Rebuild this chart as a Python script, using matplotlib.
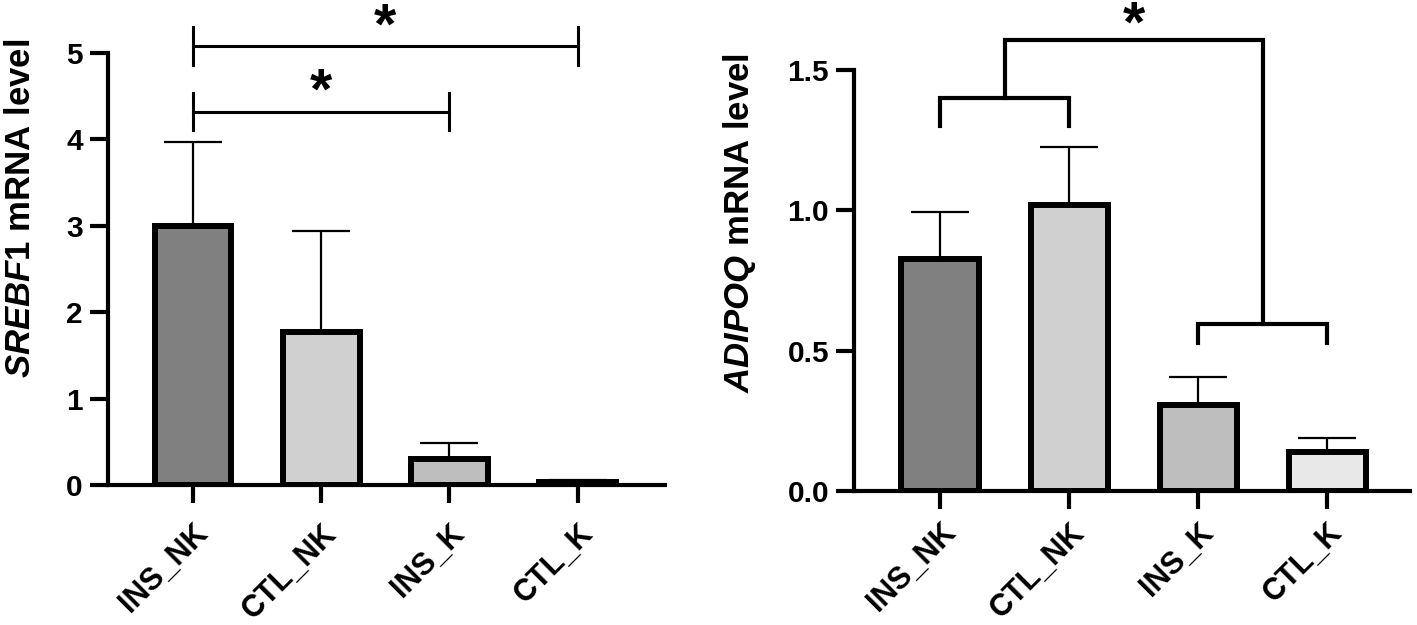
import matplotlib
matplotlib.use("Agg")
import matplotlib.pyplot as plt

plt.rcParams['font.family'] = ['Liberation Sans', 'DejaVu Sans']
plt.rcParams['mathtext.fontset'] = 'custom'
plt.rcParams['mathtext.it'] = 'Liberation Sans:italic:bold'
plt.rcParams['mathtext.rm'] = 'Liberation Sans:bold'

categories = ["INS_NK", "CTL_NK", "INS_K", "CTL_K"]
bar_colors = ["#808080", "#d0d0d0", "#bebebe", "#e8e8e8"]

srebf1_mean = [3.00, 1.77, 0.30, 0.03]
srebf1_err = [0.97, 1.17, 0.19, 0.025]
srebf1_yticks = [0, 1, 2, 3, 4, 5]

adipoq_mean = [0.825, 1.02, 0.305, 0.14]
adipoq_err = [0.17, 0.205, 0.10, 0.049]
adipoq_yticks = [0.0, 0.5, 1.0, 1.5]
adipoq_yticklabels = ["0.0", "0.5", "1.0", "1.5"]

# significance brackets (left): (i, j, height, leg_half)
left_brackets = [(0, 3, 5.08, 0.22), (0, 2, 4.32, 0.215)]
# right: group brackets (i, j, height, leg_drop)
right_group_low = [(0, 1, 1.40, 0.10), (2, 3, 0.595, 0.067)]
right_top = 1.606

FS = 21.5
XFS = 22
LFS = 25

fig = plt.figure(figsize=(14.17, 6.25), dpi=100)
ax1 = fig.add_axes([0.0762, 0.224, 0.393, 0.7536])
ax2 = fig.add_axes([0.6027, 0.2144, 0.3924, 0.7725])

x = list(range(len(categories)))

def style(ax, ymax, yticks, ylabels, ylabel, xlim, xpad, lab_xy):
    for s in ['top', 'right']:
        ax.spines[s].set_visible(False)
    ax.spines['left'].set_linewidth(3.0)
    ax.spines['bottom'].set_linewidth(3.0)
    ax.spines['left'].set_bounds(0, yticks[-1])
    ax.spines['left'].set_capstyle('projecting')
    ax.set_xlim(*xlim)
    ax.set_ylim(0, ymax)
    ax.set_yticks(yticks)
    ax.set_yticklabels(ylabels, fontsize=FS, fontweight='bold')
    ax.set_xticks(x)
    ax.set_xticklabels(categories, rotation=45, ha='right', rotation_mode='anchor',
                       fontsize=XFS, fontweight='bold')
    ax.tick_params(axis='x', length=13, width=3.0, pad=xpad)
    ax.tick_params(axis='y', length=13, width=3.0, pad=5)
    ax.set_ylabel(ylabel, fontsize=LFS, fontweight='bold')
    ax.yaxis.set_label_coords(*lab_xy)

def bars(ax, means, errs):
    ax.errorbar(x, means, yerr=[[0]*len(means), errs], fmt='none', ecolor='black',
                elinewidth=1.6, capsize=21, capthick=1.6, zorder=1)
    ax.bar(x, means, width=0.6, color=bar_colors, edgecolor='black', linewidth=4.3, zorder=2)

def star(ax, xpos, h, dy):
    ax.annotate("*", xy=(xpos, h), xytext=(0, dy), textcoords='offset points',
                ha='center', va='baseline', fontsize=41, fontweight='bold',
                annotation_clip=False)

# Left panel
bars(ax1, srebf1_mean, srebf1_err)
style(ax1, 5.45, srebf1_yticks, [str(v) for v in srebf1_yticks],
      r"$\mathit{SREBF1}$ mRNA level", (-0.663, 3.68), 11, (-0.128, 0.588))
for i, j, h, d in left_brackets:
    ax1.plot([i, j], [h, h], color='black', lw=2.2, clip_on=False)
    for k in (i, j):
        ax1.plot([k, k], [h - d, h + d], color='black', lw=2.2, clip_on=False)
    star(ax1, (i + j) / 2, h, 2)

# Right panel
bars(ax2, adipoq_mean, adipoq_err)
style(ax2, 1.72, adipoq_yticks, adipoq_yticklabels,
      r"$\mathit{ADIPOQ}$ mRNA level", (-0.667, 3.64), 6, (-0.172, 0.555))
lw2 = 3.0
for i, j, h, d in right_group_low:
    ax2.plot([i, i, j, j], [h - d, h, h, h - d], color='black', lw=lw2, clip_on=False,
             solid_joinstyle='miter')
m1 = (right_group_low[0][0] + right_group_low[0][1]) / 2
m2 = (right_group_low[1][0] + right_group_low[1][1]) / 2
ax2.plot([m1, m1, m2, m2], [right_group_low[0][2], right_top, right_top, right_group_low[1][2]],
         color='black', lw=lw2, clip_on=False, solid_joinstyle='miter')
star(ax2, (m1 + m2) / 2, right_top, -1)

fig.savefig("out.png", dpi=100)
